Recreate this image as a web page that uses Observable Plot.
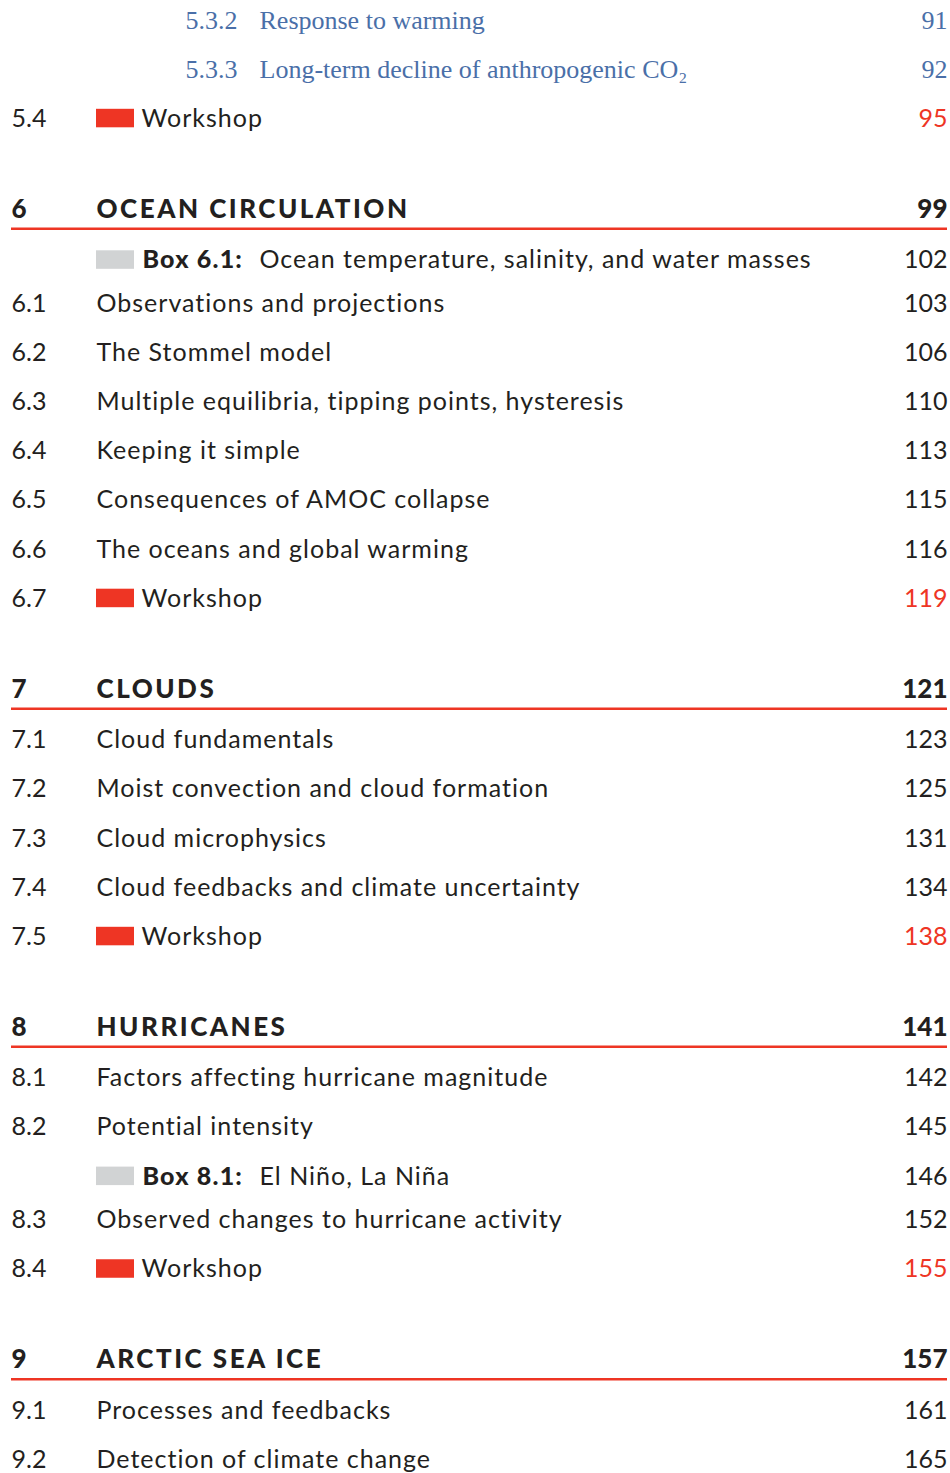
<!DOCTYPE html>
<html>
<head>
<meta charset="utf-8">
<script src="https://cdn.jsdelivr.net/npm/d3@7"></script>
<script src="https://cdn.jsdelivr.net/npm/@observablehq/plot@0.6"></script>
<style>
  html, body { margin: 0; padding: 0; background: #fff; }
  #chart svg { display: block; }
  #chart svg text { font-variant-ligatures: none; }
  #chart g[aria-description="entry-title"] text { letter-spacing: 1px; }
  #chart g[aria-description="box-title"] text { letter-spacing: 1px; }
  #chart g[aria-description="box-label"] text { letter-spacing: 1.2px; }
  #chart g[aria-description="chapter-title"] text { letter-spacing: 2.5px; }
</style>
</head>
<body>
<div id="chart"></div>
<script>
// ---- Data ----
const kinds = ["sub","sub","workshop","chapter","box","entry","entry","entry","entry","entry","entry","workshop",
  "chapter","entry","entry","entry","entry","workshop",
  "chapter","entry","entry","box","entry","workshop",
  "chapter","entry","entry"];
const numbers = ["5.3.2","5.3.3","5.4","6","","6.1","6.2","6.3","6.4","6.5","6.6","6.7",
  "7","7.1","7.2","7.3","7.4","7.5",
  "8","8.1","8.2","","8.3","8.4",
  "9","9.1","9.2"];
const titles = [
  "Response to warming",
  "Long-term decline of anthropogenic CO₂",
  "Workshop",
  "OCEAN CIRCULATION",
  "Box 6.1:|Ocean temperature, salinity, and water masses",
  "Observations and projections",
  "The Stommel model",
  "Multiple equilibria, tipping points, hysteresis",
  "Keeping it simple",
  "Consequences of AMOC collapse",
  "The oceans and global warming",
  "Workshop",
  "CLOUDS",
  "Cloud fundamentals",
  "Moist convection and cloud formation",
  "Cloud microphysics",
  "Cloud feedbacks and climate uncertainty",
  "Workshop",
  "HURRICANES",
  "Factors affecting hurricane magnitude",
  "Potential intensity",
  "Box 8.1:|El Niño, La Niña",
  "Observed changes to hurricane activity",
  "Workshop",
  "ARCTIC SEA ICE",
  "Processes and feedbacks",
  "Detection of climate change"
];
const pages = [91,92,95,99,102,103,106,110,113,115,116,119,121,123,125,131,134,138,141,142,145,146,152,155,157,161,165];

// ---- Layout (computed from row kinds) ----
const W = 950, H = 1473;
let yPos = 20;
const rows = kinds.map((k, i) => {
  if (i > 0) {
    const prev = kinds[i - 1];
    if (k === "chapter") yPos += 90.5;
    else if (prev === "chapter") yPos += 51;
    else if (prev === "box") yPos += 43.5;
    else yPos += 49.15;
  }
  const parts = titles[i].split("|");
  return {kind: k, num: numbers[i], title: parts.length > 1 ? parts[1] : parts[0],
          boxLabel: parts.length > 1 ? parts[0] : "", page: String(pages[i]), y: yPos};
});

const RED = "#ee3524", BLUE = "#4a6fa8", INK = "#231f20", GRAY = "#d1d3d4";
const SANS = "Lato, 'Noto Sans', sans-serif";
const SERIF = "'Liberation Serif', 'DejaVu Serif', serif";

const sub = rows.filter(d => d.kind === "sub");
const chap = rows.filter(d => d.kind === "chapter");
const entry = rows.filter(d => d.kind === "entry" || d.kind === "workshop");
const box = rows.filter(d => d.kind === "box");
const work = rows.filter(d => d.kind === "workshop");
const plain = rows.filter(d => d.kind === "entry" || d.kind === "box");

const chart = Plot.plot({
  width: W, height: H, margin: 0,
  x: {domain: [0, W], range: [0, W], axis: null},
  y: {domain: [0, H], range: [0, H], axis: null},
  style: {background: "#fff"},
  marks: [
    // chapter rules
    Plot.ruleY(chap, {y: d => d.y + 19.5, x1: 11, x2: 947, stroke: RED, strokeWidth: 2.5}),
    // chapter text
    Plot.text(chap, {x: 11, y: "y", text: "num", textAnchor: "start", lineAnchor: "middle",
      fontFamily: SANS, fontWeight: 900, fontSize: 26, fill: INK}),
    Plot.text(chap, {x: 96, y: "y", text: "title", textAnchor: "start", lineAnchor: "middle", ariaDescription: "chapter-title",
      fontFamily: SANS, fontWeight: 900, fontSize: 26, fill: INK}),
    Plot.text(chap, {x: 947, y: "y", text: "page", textAnchor: "end", lineAnchor: "middle",
      fontFamily: SANS, fontWeight: 900, fontSize: 26, fill: INK}),
    // sub entries (serif, blue)
    Plot.text(sub, {x: 185, y: "y", text: "num", textAnchor: "start", lineAnchor: "middle",
      fontFamily: SERIF, fontSize: 26, fill: BLUE}),
    Plot.text(sub, {x: 259, y: "y", text: "title", textAnchor: "start", lineAnchor: "middle",
      fontFamily: SERIF, fontSize: 26, fill: BLUE}),
    Plot.text(sub, {x: 947, y: "y", text: "page", textAnchor: "end", lineAnchor: "middle",
      fontFamily: SERIF, fontSize: 26, fill: BLUE}),
    // markers
    Plot.rect(work, {x1: 96, x2: 134, y1: d => d.y - 9.5, y2: d => d.y + 9, fill: RED}),
    Plot.rect(box, {x1: 96, x2: 134, y1: d => d.y - 9.5, y2: d => d.y + 9, fill: GRAY}),
    // entries
    Plot.text(entry, {x: 11, y: "y", text: "num", textAnchor: "start", lineAnchor: "middle",
      fontFamily: SANS, fontSize: 25, fill: INK}),
    Plot.text(entry, {x: d => d.kind === "workshop" ? 141 : 96, y: "y", text: "title", textAnchor: "start", lineAnchor: "middle", ariaDescription: "entry-title",
      fontFamily: SANS, fontSize: 25, fill: INK}),
    Plot.text(box, {x: 142, y: "y", text: "boxLabel", textAnchor: "start", lineAnchor: "middle", ariaDescription: "box-label",
      fontFamily: SANS, fontWeight: 900, fontSize: 25, fill: INK}),
    Plot.text(box, {x: 259, y: "y", text: "title", textAnchor: "start", lineAnchor: "middle", ariaDescription: "box-title",
      fontFamily: SANS, fontSize: 25, fill: INK}),
    Plot.text(plain, {x: 947, y: "y", text: "page", textAnchor: "end", lineAnchor: "middle",
      fontFamily: SANS, fontSize: 25, fill: INK}),
    Plot.text(work, {x: 947, y: "y", text: "page", textAnchor: "end", lineAnchor: "middle",
      fontFamily: SANS, fontSize: 25, fill: RED})
  ]
});
document.getElementById("chart").append(chart);
</script>
</body>
</html>
